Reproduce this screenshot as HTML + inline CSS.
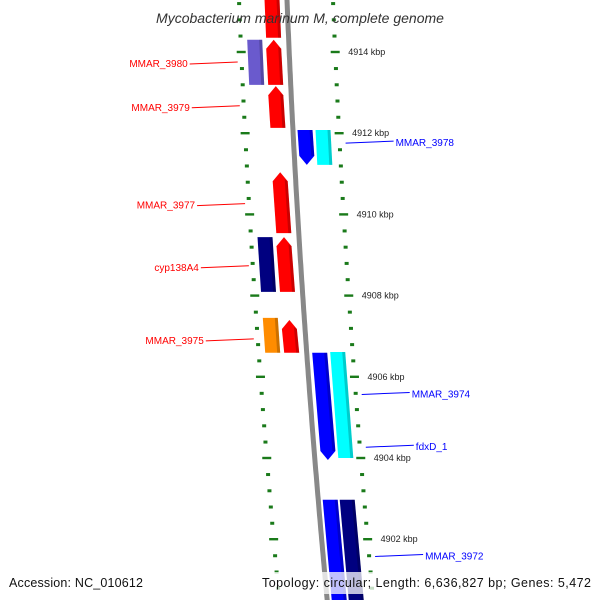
<!DOCTYPE html>
<html><head><meta charset="utf-8"><style>
body{margin:0;background:#fff}
svg{display:block;font-family:"Liberation Sans","DejaVu Sans",sans-serif}
</style></head><body>
<svg id="map" width="600" height="600" viewBox="0 0 600 600">
<g id="ticks"></g>
<path id="backbone" fill="none" stroke="#888" stroke-width="5"/>
<g id="genes"></g>
<g id="labels"></g>
<text x="300" y="23" text-anchor="middle" font-size="14" font-style="italic" fill="#333">Mycobacterium marinum M, complete genome</text>
<rect x="255" y="572" width="340" height="22" fill="#fff" fill-opacity="0.75"/>
<text x="9" y="587" font-size="12.5" fill="#111" textLength="134">Accession: NC_010612</text>
<text x="262" y="587" font-size="12.5" fill="#111" textLength="329" lengthAdjust="spacing">Topology: circular; Length: 6,636,827 bp; Genes: 5,472</text>
</svg>
<script>
const geneStart=[4915.3,4914.30,4913.16,4914.30,4912.08,4912.08,4911.04,4909.44,4909.44,4907.45,4907.40,4906.59,4906.61,4902.97,4902.97];
const geneEnd=  [4914.35,4913.19,4912.13,4913.19,4911.22,4911.22,4909.54,4908.09,4908.09,4906.59,4906.59,4903.95,4904.00,4900.4,4900.4];
const geneLane=[-15,-15,-15,-34,12,30,-15,-34,-15,-34,-15,13,31,12,29];
const geneStrand=[0,1,1,0,-1,0,1,0,1,0,1,-1,0,0,0];
const geneColor=["#ff0000","#ff0000","#ff0000","#6a5acd","#0000ff","#00ffff","#ff0000","#000080","#ff0000","#ff8c00","#ff0000","#0000ff","#00ffff","#0000ff","#000080"];
const labelText=["MMAR_3980","MMAR_3979","MMAR_3977","cyp138A4","MMAR_3975","MMAR_3978","MMAR_3974","fdxD_1","MMAR_3972"];
const labelKbp=[4913.73,4912.65,4910.24,4908.71,4906.91,4911.78,4905.59,4904.29,4901.60];
const labelSide=[-1,-1,-1,-1,-1,1,1,1,1];
const tickLabels=[4914,4912,4910,4908,4906,4904,4902];

const NS="http://www.w3.org/2000/svg";
function yOf(k){return 52+(4914-k)*40.6;}
function bx(y){return 287+0.04*y+0.000045*y*y;}
function mk(t,a,p){const e=document.createElementNS(NS,t);for(const k in a)e.setAttribute(k,a[k]);p.appendChild(e);return e;}

let d="";for(let y=-5;y<=605;y+=5)d+=(y<0?"M":"L")+bx(y).toFixed(1)+" "+y+" ";
document.getElementById("backbone").setAttribute("d",d);

const tg=document.getElementById("ticks");
for(let i=0;i<=38;i++){
  const k=4915.2-i*0.4;const y=yOf(k);if(y<-5||y>605)continue;
  const major=Math.abs(k/2-Math.round(k/2))<0.01;
  const w=major?9:4;
  for(const off of [-48,46]){
    const r=mk("rect",{x:bx(y)+off-w/2,y:y-1.2,width:w,height:major?2.4:3,fill:"#1a7a1a"},tg);
    
    
  }
}
tickLabels.forEach(k=>{const y=yOf(k);
  const t=mk("text",{x:bx(y)+59,y:y+3,"font-size":9,fill:"#222"},tg);t.textContent=k+" kbp";
  
  
});

const gg=document.getElementById("genes");
geneStart.forEach((s,i)=>{
  let y1=yOf(s),y2=yOf(geneEnd[i]);const hw=7.5,ah=9;
  const c1=bx(y1)+geneLane[i],c2=bx(y2)+geneLane[i];
  let pts;
  if(geneStrand[i]===1){
    pts=[[c1,y1],[c1+hw,y1+ah],[c2+hw,y2],[c2-hw,y2],[c1-hw,y1+ah]];
  }else if(geneStrand[i]===-1){
    pts=[[c1-hw,y1],[c1+hw,y1],[c2+hw,y2-ah],[c2,y2],[c2-hw,y2-ah]];
  }else pts=[[c1-hw,y1],[c1+hw,y1],[c2+hw,y2],[c2-hw,y2]];
  const p=mk("polygon",{points:pts.map(q=>q[0].toFixed(1)+","+q[1].toFixed(1)).join(" "),fill:geneColor[i]},gg);
  
  
  const sh=mk("polygon",{points:[[c1+hw-3,y1+(geneStrand[i]===1?ah-2:0)],[c1+hw,y1+(geneStrand[i]===1?ah:0)],[c2+hw,y2-(geneStrand[i]===-1?ah:0)],[c2+hw-3,y2-(geneStrand[i]===-1?ah:0)]].map(q=>q[0].toFixed(1)+","+q[1].toFixed(1)).join(" "),fill:"#000","fill-opacity":0.2},gg);
  
  
});

const lg=document.getElementById("labels");
labelText.forEach((txt,i)=>{
  const y=yOf(labelKbp[i]);const side=labelSide[i];
  const col=side<0?"#ff0000":"#0000ff";
  let x0,x1,tx;
  if(side<0){x1=bx(y)-52;x0=x1-48;tx=x0-2;}else{x0=bx(y)+52;x1=x0+48;tx=x1+2;}
  const l=mk("line",{x1:x0,y1:y+1,x2:x1,y2:y-1,stroke:col,"stroke-width":1},lg);
  
  
  const t=mk("text",{x:tx,y:y+4,"font-size":10,fill:col,"text-anchor":side<0?"end":"start"},lg);
  t.textContent=txt;
  
  
});
</script>
</body></html>
